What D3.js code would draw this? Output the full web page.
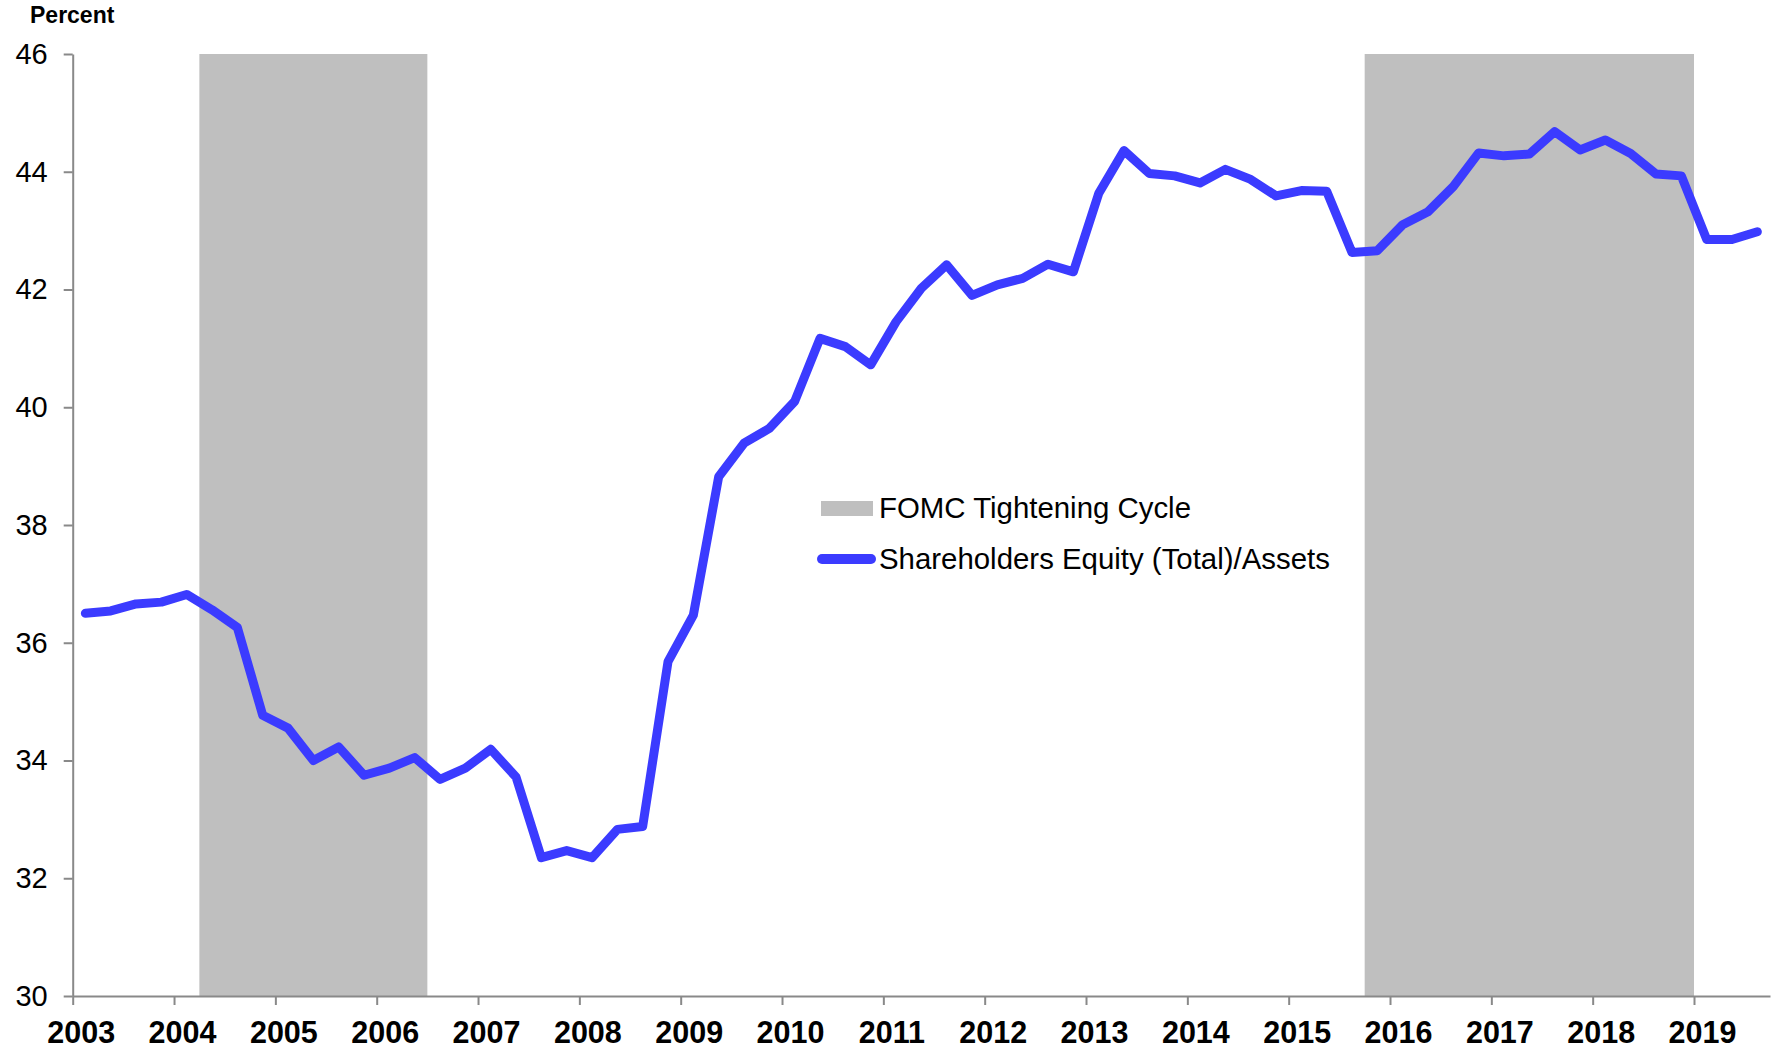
<!DOCTYPE html>
<html>
<head>
<meta charset="utf-8">
<script src="https://cdn.jsdelivr.net/npm/d3@7"></script>
<style>
	body { margin: 0; background: #fff; }
	svg { display: block; font-family: "Liberation Sans", Arial, sans-serif; }
</style>
</head>
<body>
<svg id="chart" width="1777" height="1050"></svg>
<script>
const WIDTH = 1777,
	  HEIGHT = 1050;

// quarterly data, 2003Q1 .. 2019Q3
const startYear = 2003;
const values = [
	36.50, 36.54, 36.66, 36.69, 36.82, 36.56, 36.26, 34.77,
	34.55, 34.00, 34.23, 33.75, 33.87, 34.05, 33.68, 33.87,
	34.19, 33.72, 32.35, 32.47, 32.35, 32.83, 32.88, 35.68,
	36.47, 38.82, 39.39, 39.64, 40.10, 41.17, 41.03, 40.72,
	41.45, 42.02, 42.42, 41.90, 42.08, 42.19, 42.43, 42.30,
	43.63, 44.36, 43.97, 43.93, 43.81, 44.04, 43.87, 43.59,
	43.68, 43.67, 42.63, 42.66, 43.10, 43.32, 43.75, 44.32,
	44.27, 44.30, 44.68, 44.37, 44.54, 44.31, 43.96, 43.93,
	42.85, 42.85, 42.98
];
const quarters = values.map((v, i) => (startYear + Math.floor(i / 4)) + "Q" + (i % 4 + 1));

const yearLabels = ["2003", "2004", "2005", "2006", "2007", "2008", "2009", "2010", "2011",
	"2012", "2013", "2014", "2015", "2016", "2017", "2018", "2019"];
const yTicks = [30, 32, 34, 36, 38, 40, 42, 44, 46];

// FOMC tightening cycles (first and last quarter shaded)
const cycles = [
	{start: "2004Q2", end: "2006Q2"},
	{start: "2015Q4", end: "2018Q4"}
];

const seriesName = "Shareholders Equity (Total)/Assets",
	  shadeName = "FOMC Tightening Cycle";

const lineColor = "#3b3bff",
	  shadeColor = "#bfbfbf",
	  axisColor = "#898989";

const plotLeft = 72.7, plotRight = 1770,
	  plotTop = 54, plotBottom = 996;

let svg = d3.select("#chart");

// index scale: category i spans [i, i+1]
let x = d3.scaleLinear().domain([0, quarters.length]).range([plotLeft, plotRight]);
let y = d3.scaleLinear().domain([30, 46]).range([plotBottom, plotTop]);

// shading
svg.append("g").selectAll("rect")
	.data(cycles)
	.join("rect")
		.attr("x", d => x(quarters.indexOf(d.start)))
		.attr("y", y(46))
		.attr("width", d => x(quarters.indexOf(d.end) + 1) - x(quarters.indexOf(d.start)))
		.attr("height", y(30) - y(46))
		.attr("fill", shadeColor);

// y axis
let yAxis = svg.append("g")
	.attr("transform", "translate(" + plotLeft + ",0)")
	.call(d3.axisLeft(y).tickValues(yTicks).tickSize(9).tickSizeOuter(0).tickPadding(16));

yAxis.selectAll("path, line").attr("stroke", axisColor).attr("stroke-width", 2);
yAxis.selectAll("text")
	.attr("fill", "#000")
	.style("font-size", "29px")
	.style("font-family", "Liberation Sans, Arial, sans-serif");

// x axis
let xAxis = svg.append("g")
	.attr("transform", "translate(0," + plotBottom + ")")
	.call(d3.axisBottom(x)
		.tickValues(yearLabels.map((d, i) => i * 4))
		.tickFormat((d, i) => yearLabels[i])
		.tickSize(9).tickSizeOuter(0).tickPadding(16));

xAxis.selectAll("path, line").attr("stroke", axisColor).attr("stroke-width", 2);
xAxis.selectAll("text")
	.attr("fill", "#000")
	.attr("dx", 8)
	.style("font-size", "30.5px")
	.style("font-weight", "bold")
	.style("font-family", "Liberation Sans, Arial, sans-serif");

// series line
let line = d3.line()
	.x((d, i) => x(i + 0.5))
	.y(d => y(d));

svg.append("path")
	.datum(values)
	.attr("d", line)
	.attr("fill", "none")
	.attr("stroke", lineColor)
	.attr("stroke-width", 9)
	.attr("stroke-linejoin", "round")
	.attr("stroke-linecap", "round");

// unit label
svg.append("text")
	.attr("x", 30)
	.attr("y", 23)
	.style("font-size", "23px")
	.style("font-weight", "bold")
	.text("Percent");

// legend
let legend = svg.append("g");

legend.append("rect")
	.attr("x", 821)
	.attr("y", 501)
	.attr("width", 52)
	.attr("height", 15)
	.attr("fill", shadeColor);

legend.append("text")
	.attr("x", 879)
	.attr("y", 518)
	.style("font-size", "29.4px")
	.text(shadeName);

legend.append("line")
	.attr("x1", 822)
	.attr("x2", 871)
	.attr("y1", 559)
	.attr("y2", 559)
	.attr("stroke", lineColor)
	.attr("stroke-width", 10)
	.attr("stroke-linecap", "round");

legend.append("text")
	.attr("x", 879)
	.attr("y", 569)
	.style("font-size", "29.4px")
	.text(seriesName);
</script>
</body>
</html>
